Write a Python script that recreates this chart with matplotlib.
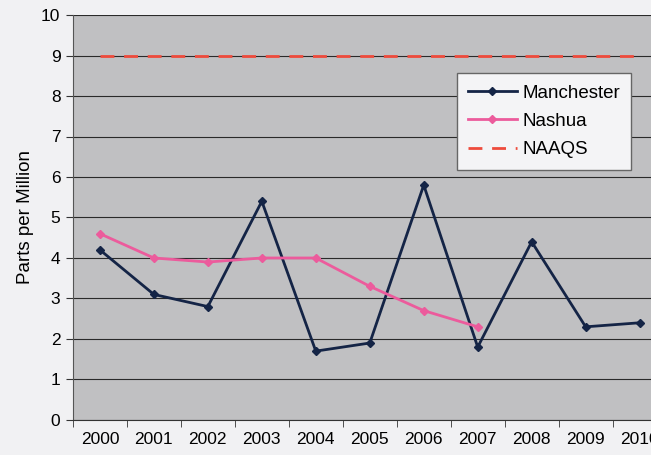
import numpy as np
import matplotlib.pyplot as plt

plt.rcParams['font.family'] = ['Liberation Sans', 'DejaVu Sans']

years = ["2000", "2001", "2002", "2003", "2004", "2005", "2006", "2007", "2008", "2009", "2010"]
manchester = [4.2, 3.1, 2.8, 5.4, 1.7, 1.9, 5.8, 1.8, 4.4, 2.3, 2.4]
nashua = [4.6, 4.0, 3.9, 4.0, 4.0, 3.3, 2.7, 2.3]
naaqs = [9] * len(years)

fig = plt.figure(figsize=(6.51, 4.55), dpi=100, facecolor="#f1f1f3")
ax = fig.add_axes([0.112, 0.077, 0.912, 0.890])
ax.set_facecolor("#c0c0c2")

x = np.arange(len(years))
ax.plot(x, naaqs, color="#ee4b3c", lw=2, dashes=(5, 3.5), label="NAAQS", zorder=3)
ax.plot(x, manchester, color="#142446", lw=2, marker="D", ms=4.5, label="Manchester", zorder=4)
ax.plot(x[:len(nashua)], nashua, color="#ec5b9c", lw=2, marker="D", ms=4.5, label="Nashua", zorder=4)

ax.set_xlim(-0.5, len(years) - 0.5)
ax.set_ylim(0, 10)
ax.set_yticks(range(0, 11))
ax.yaxis.grid(True, color="#2a2a2a", lw=0.8)
ax.set_axisbelow(True)

ax.set_xticks(x)
ax.set_xticklabels(years)
ax.set_xticks(np.arange(-0.5, len(years), 1), minor=True)
ax.tick_params(axis="x", which="major", length=0, pad=9, labelsize=12.5)
ax.tick_params(axis="x", which="minor", length=5, color="#333333")
ax.tick_params(axis="y", length=5, color="#333333", labelsize=12.5, pad=4)

for side in ["top", "right"]:
    ax.spines[side].set_visible(False)
ax.spines["left"].set_color("#555555")
ax.spines["bottom"].set_color("#333333")

ax.set_ylabel("Parts per Million", fontsize=13.5, labelpad=5)

h, l = ax.get_legend_handles_labels()
order = [1, 2, 0]
leg = ax.legend([h[i] for i in order], [l[i] for i in order],
                loc="upper left", bbox_to_anchor=(0.637, 0.87),
                fontsize=13.5, frameon=True, fancybox=False,
                handlelength=2.6, handletextpad=0.3, borderpad=0.6,
                labelspacing=0.6, borderaxespad=0.3)
leg.get_frame().set_facecolor("#f4f4f6")
leg.get_frame().set_edgecolor("#666666")
leg.get_frame().set_alpha(1)

fig.savefig("out.png", dpi=100, facecolor=fig.get_facecolor())
